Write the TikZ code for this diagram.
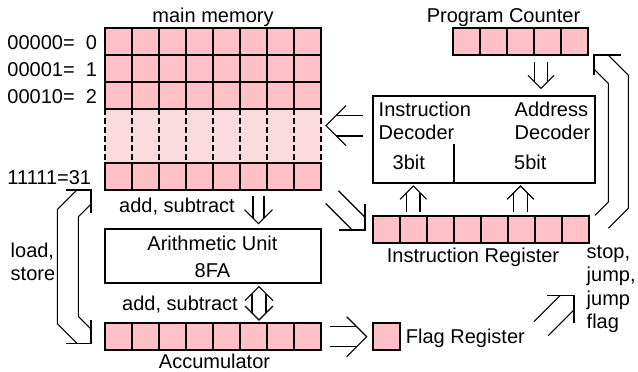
\documentclass[tikz,border=0pt]{standalone}
\usepackage{fontspec}
\setmainfont{Liberation Sans}
\usetikzlibrary{calc}
\definecolor{cellpink}{RGB}{255,192,200}
\definecolor{lightpink}{RGB}{251,218,222}
% double-line arrow: tail, tip, shaft half-width, head half-width
\newcommand\dblarr[4]{%
  \coordinate (dbS) at ($(#2)!#3!(#1)$);
  \coordinate (dbH) at ($(#2)!#4!(#1)$);
  \draw[arrline] ($(#1)!#3!90:(#2)$) -- ($(dbS)!#3!90:(#2)$);
  \draw[arrline] ($(#1)!#3!-90:(#2)$) -- ($(dbS)!#3!-90:(#2)$);
  \draw[arrline] ($(dbH)!#4!90:(#2)$) -- (#2) -- ($(dbH)!#4!-90:(#2)$);
}
% double-headed double-line arrow: tip1, tip2, shaft half-width, head half-width
\newcommand\dblarrboth[4]{%
  \coordinate (dbSa) at ($(#1)!#3!(#2)$);
  \coordinate (dbSb) at ($(#2)!#3!(#1)$);
  \coordinate (dbHa) at ($(#1)!#4!(#2)$);
  \coordinate (dbHb) at ($(#2)!#4!(#1)$);
  \draw[arrline] ($(dbSa)!#3!90:(#2)$) -- ($(dbSb)!#3!-90:(#1)$);
  \draw[arrline] ($(dbSa)!#3!-90:(#2)$) -- ($(dbSb)!#3!90:(#1)$);
  \draw[arrline] ($(dbHa)!#4!90:(#2)$) -- (#1) -- ($(dbHa)!#4!-90:(#2)$);
  \draw[arrline] ($(dbHb)!#4!90:(#1)$) -- (#2) -- ($(dbHb)!#4!-90:(#1)$);
}
\begin{document}
\begin{tikzpicture}[x=1pt,y=-1pt,
  font=\fontsize{20}{23.5}\selectfont,
  cell/.style={draw, fill=cellpink, line width=1.2pt, minimum width=27pt,
    minimum height=27pt, inner sep=0pt, outer sep=0pt, anchor=north west},
  box/.style={draw, line width=1.2pt, inner sep=0pt, outer sep=0pt, anchor=north west},
  lbl/.style={anchor=base, inner sep=0pt},
  lblw/.style={anchor=base west, inner sep=0pt},
  arrline/.style={line width=1.1pt, line join=miter, line cap=butt},
  dashcol/.style={line width=1.2pt, dash pattern=on 6pt off 3pt}]
\useasboundingbox (0,0) rectangle (638,372);

% ---- main memory
\node[inner sep=0pt, minimum width=216pt, minimum height=162pt, anchor=north west] (mem) at (105,28) {};
\fill[lightpink] (105,109) rectangle (321,163);
\foreach \c in {0,...,8} \draw[dashcol] ({105+\c*27},109) -- ++(0,54);
\foreach \r in {0,1,2,5}{
  \foreach \c in {0,...,7}{
    \node[cell] (m\r\c) at ({105+\c*27},{28+\r*27}) {};
  }
}
\node[lbl] (memlbl) at (213,23) {main memory};
\node[lblw] (a0) at (7.3,49.3) {00000=\ \ 0};
\node[lblw] (a1) at (7.3,76.2) {00001=\ \ 1};
\node[lblw] (a2) at (7.3,103.2) {00010=\ \ 2};
\node[lblw] (a31) at (7.3,184.3) {11111=31};

% ---- program counter
\foreach \c in {0,...,4} \node[cell] (pc\c) at ({453+\c*27},28) {};
\node[lbl] (pclbl) at (503.5,22.7) {Program Counter};

% ---- decoder
\node[box, minimum width=222pt, minimum height=87pt] (dec) at (373,96) {};
\coordinate (divtop) at (454,144);
\draw[line width=1.2pt] (divtop) -- (divtop |- dec.south);
\node[lblw] (d1) at (378.5,116) {Instruction};
\node[lblw] (d2) at (378.5,139.3) {Decoder};
\node[lblw] (d3) at (392.5,169.3) {3bit};
\node[lblw] (d4) at (514.5,116) {Address};
\node[lblw] (d5) at (514.5,139.3) {Decoder};
\node[lblw] (d6) at (514,169.3) {5bit};

% ---- instruction register
\foreach \c in {0,...,7} \node[cell] (ir\c) at ({373+\c*27},216) {};
\node[lbl] (irlbl) at (473,262.7) {Instruction Register};

% ---- arithmetic unit
\node[box, minimum width=216pt, minimum height=54pt] (au) at (105,229) {};
\node[lbl] (au1) at (212.5,250.7) {Arithmetic Unit};
\node[lbl] (au2) at (212.5,277.3) {8FA};
\node[lbl] (as1) at (177,212.7) {add, subtract};
\node[lbl] (as2) at (180,310) {add, subtract};

% ---- accumulator and flag
\foreach \c in {0,...,7} \node[cell] (acc\c) at ({105+\c*27},323) {};
\node[lbl] (acclbl) at (214.5,368.3) {Accumulator};
\node[cell] (flag) at (373,323) {};
\node[lblw] (flaglbl) at (405.7,343.3) {Flag Register};

% ---- side texts
\node[lblw] (ls1) at (10.5,257.3) {load,};
\node[lblw] (ls2) at (10.5,280.6) {store};
\node[lblw] (sj1) at (586.5,258.3) {stop,};
\node[lblw] (sj2) at (586.5,281.7) {jump,};
\node[lblw] (sj3) at (586.5,305) {jump};
\node[lblw] (sj4) at (586.5,328.3) {flag};

% ---- straight double arrows
\coordinate (pcA) at (541,61.7);   \coordinate (pcB) at (541,88.3);
\dblarr{pcA}{pcB}{6.5pt}{13pt}
\coordinate (dmA) at (363.3,125.7); \coordinate (dmB) at (326,125.7);
\dblarr{dmA}{dmB}{10.3pt}{20pt}
\coordinate (miA) at (332,197);   \coordinate (miB) at (365,230);
\dblarr{miA}{miB}{9pt}{18.4pt}
\coordinate (id1A) at (413.3,212.3); \coordinate (id1B) at (413.3,186);
\dblarr{id1A}{id1B}{6.7pt}{13.3pt}
\coordinate (id2A) at (520.5,212.3); \coordinate (id2B) at (520.5,186);
\dblarr{id2A}{id2B}{6.7pt}{13.3pt}
\coordinate (maA) at (258.5,196);  \coordinate (maB) at (258.5,223.7);
\dblarr{maA}{maB}{5.5pt}{14pt}
\coordinate (aaA) at (259,286.7);  \coordinate (aaB) at (259,320);
\dblarrboth{aaA}{aaB}{7pt}{14pt}
\coordinate (afA) at (330,336.7);  \coordinate (afB) at (366.7,336.7);
\dblarr{afA}{afB}{10pt}{20pt}
\coordinate (fjA) at (541,328.7);  \coordinate (fjB) at (574,295.7);
\dblarr{fjA}{fjB}{10pt}{19pt}

% ---- load/store bent double arrow
\draw[arrline] (76.9,190) -- (57.3,209.6) -- (57.3,323.7) -- (76.9,343.3);
\draw[arrline] (91,204.1) -- (78.3,216.8) -- (78.3,316.5) -- (91,329.2);
\draw[arrline] (65.5,190) -- (91,190) -- (91,213);
\draw[arrline] (65.5,343.3) -- (91,343.3) -- (91,320.3);

% ---- loop double arrow from instruction register to program counter
\draw[arrline] (608.1,55) -- (628.3,75.2) -- (628.3,208.3) -- (608.3,228.3);
\draw[arrline] (594,69.1) -- (608.3,83.4) -- (608.3,202) -- (595,215.3);
\draw[arrline] (621,55) -- (594,55) -- (594,75);
\end{tikzpicture}
\end{document}
